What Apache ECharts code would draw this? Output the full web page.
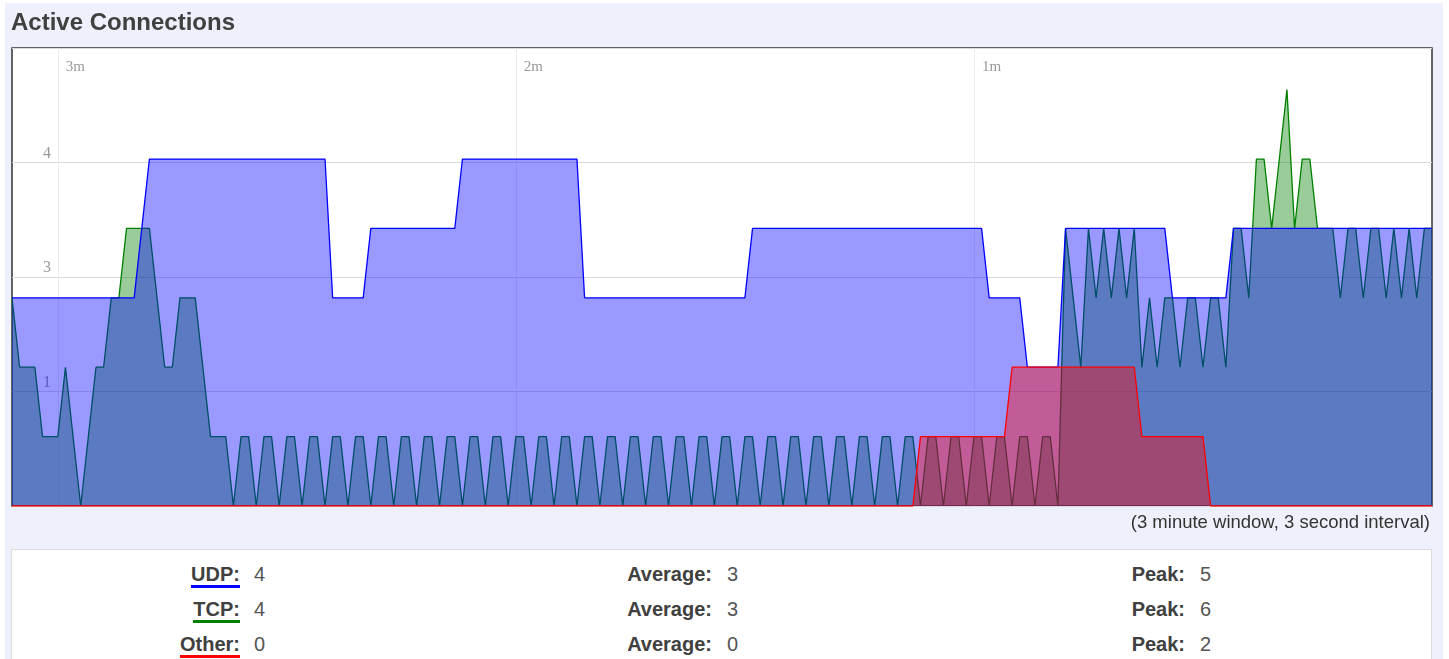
<!DOCTYPE html>
<html>
<head>
<meta charset="utf-8">
<script src="https://cdn.jsdelivr.net/npm/echarts@6/dist/echarts.min.js"></script>
<style>
html,body{margin:0;padding:0;background:#fff;width:1449px;height:659px;overflow:hidden;font-family:'Liberation Sans',Arial,sans-serif;}
#panel{position:absolute;left:5px;top:3px;width:1438px;height:656px;background:#eef1fb;}
#chart{position:absolute;left:0;top:0;width:1449px;height:545px;}
#stats{position:absolute;left:11px;top:549px;width:1419px;height:130px;background:#fff;border:1px solid #dcdcdc;}
.cell{position:absolute;font-size:20px;line-height:24px;white-space:nowrap;}
.lab{font-weight:bold;color:#404040;text-align:right;}
.val{color:#555;}
</style>
</head>
<body>
<div id="panel"></div>
<div id="chart"></div>
<div id="stats"></div>
<script>
// ---- data (3 minute window, one value per sample, oldest first) ----
const tcp = [
 3,2,2,2,1,1,1,2,1,0,
 1,2,2,3,3,4,4,4,4,3,
 2,2,3,3,3,2,1,1,1,0,
 1,1,0,1,1,0,1,1,0,1,
 1,0,1,1,0,1,1,0,1,1,
 0,1,1,0,1,1,0,1,1,0,
 1,1,0,1,1,0,1,1,0,1,
 1,0,1,1,0,1,1,0,1,1,
 0,1,1,0,1,1,0,1,1,0,
 1,1,0,1,1,0,1,1,0,1,
 1,0,1,1,0,1,1,0,1,1,
 0,1,1,0,1,1,0,1,1,0,
 1,1,0,1,1,0,1,1,0,1,
 1,0,1,1,0,1,1,0,4,3,
 2,4,3,4,3,4,3,4,2,3,
 2,3,3,2,3,3,2,3,3,2,
 4,4,3,5,5,4,5,6,4,5,
 5,4,4,4,3,4,4,3,4,4,
 3,4,3,4,3,4,4
];
const udp = [
 3,3,3,3,3,3,3,3,3,3,
 3,3,3,3,3,3,3,4,5,5,
 5,5,5,5,5,5,5,5,5,5,
 5,5,5,5,5,5,5,5,5,5,
 5,5,3,3,3,3,3,4,4,4,
 4,4,4,4,4,4,4,4,4,5,
 5,5,5,5,5,5,5,5,5,5,
 5,5,5,5,5,3,3,3,3,3,
 3,3,3,3,3,3,3,3,3,3,
 3,3,3,3,3,3,3,4,4,4,
 4,4,4,4,4,4,4,4,4,4,
 4,4,4,4,4,4,4,4,4,4,
 4,4,4,4,4,4,4,4,3,3,
 3,3,3,2,2,2,2,2,4,4,
 4,4,4,4,4,4,4,4,4,4,
 4,4,3,3,3,3,3,3,3,3,
 4,4,4,4,4,4,4,4,4,4,
 4,4,4,4,4,4,4,4,4,4,
 4,4,4,4,4,4,4
];
const other = [
 0,0,0,0,0,0,0,0,0,0,
 0,0,0,0,0,0,0,0,0,0,
 0,0,0,0,0,0,0,0,0,0,
 0,0,0,0,0,0,0,0,0,0,
 0,0,0,0,0,0,0,0,0,0,
 0,0,0,0,0,0,0,0,0,0,
 0,0,0,0,0,0,0,0,0,0,
 0,0,0,0,0,0,0,0,0,0,
 0,0,0,0,0,0,0,0,0,0,
 0,0,0,0,0,0,0,0,0,0,
 0,0,0,0,0,0,0,0,0,0,
 0,0,0,0,0,0,0,0,0,1,
 1,1,1,1,1,1,1,1,1,1,
 1,2,2,2,2,2,2,2,2,2,
 2,2,2,2,2,2,2,2,1,1,
 1,1,1,1,1,1,1,0,0,0,
 0,0,0,0,0,0,0,0,0,0,
 0,0,0,0,0,0,0,0,0,0,
 0,0,0,0,0,0,0
];
// time ticks (sample index -> label)
const timeTickIndex = [6, 66, 126];
const timeTickLabel = ['3m', '2m', '1m'];
// y grid lines at 25/50/75% of scale (peak 6 * 1.1), labels as shown
const yTickValue = [1.65, 3.3, 4.95];
const yTickLabel = ['1', '3', '4'];
// statistics table
const statName = ['UDP:', 'TCP:', 'Other:'];
const statColor = ['blue', 'green', 'red'];
const statCurrent = [4, 4, 0];
const statAverage = [3, 3, 0];
const statPeak = [5, 6, 2];

const categories = tcp.map((_, i) => i);

const chart = echarts.init(document.getElementById('chart'));
chart.setOption({
  animation: false,
  backgroundColor: 'transparent',
  title: {
    text: 'Active Connections', left: 11, top: 11, padding: 0,
    textStyle: {fontFamily: 'Liberation Sans', fontSize: 24, fontWeight: 'bold', color: '#404040'}
  },
  grid: {left: 12, top: 48, width: 1420, height: 458, show: true,
         backgroundColor: '#fff', borderColor: '#333', borderWidth: 1.5},
  xAxis: {
    type: 'category', data: categories, boundaryGap: false, position: 'top',
    axisLine: {show: false}, axisTick: {show: false},
    axisLabel: {
      inside: true, margin: 12, align: 'left', verticalAlign: 'top', padding: [0, 0, 0, 8],
      interval: (i) => timeTickIndex.includes(i),
      formatter: (v, i) => { const k = timeTickIndex.indexOf(Number(v)); return k >= 0 ? timeTickLabel[k] : ''; },
      color: '#999', fontFamily: 'Liberation Serif', fontSize: 15
    },
    splitLine: {show: true, interval: (i) => timeTickIndex.includes(i), lineStyle: {color: '#ececec', width: 1}}
  },
  yAxis: {
    type: 'value', min: 0, max: 6.6, interval: 1.65,
    axisLine: {show: false}, axisTick: {show: false},
    axisLabel: {
      inside: true, margin: 31, align: 'left', verticalAlign: 'bottom', padding: [0, 0, 1, 0],
      color: '#999', fontFamily: 'Liberation Serif', fontSize: 16,
      formatter: (v) => { for (let k = 0; k < yTickValue.length; k++) { if (Math.abs(v - yTickValue[k]) < 0.01) return yTickLabel[k]; } return ''; }
    },
    splitLine: {show: true, lineStyle: {color: '#dadada', width: 1}}
  },
  graphic: [{
    type: 'text', x: 1430, y: 523,
    style: {text: '(3 minute window, 3 second interval)', align: 'right', verticalAlign: 'middle',
            fontFamily: 'Liberation Sans', fontSize: 18.5, fill: '#333'}
  }],
  series: [
    {name: 'TCP', type: 'line', z: 2, data: tcp, symbol: 'none', showSymbol: false,
     lineStyle: {color: 'green', width: 1.3}, itemStyle: {color: 'green'}, areaStyle: {color: 'green', opacity: 0.4}},
    {name: 'UDP', type: 'line', z: 3, data: udp, symbol: 'none', showSymbol: false,
     lineStyle: {color: 'blue', width: 1.3}, itemStyle: {color: 'blue'}, areaStyle: {color: 'blue', opacity: 0.4}},
    {name: 'Other', type: 'line', z: 4, data: other, symbol: 'none', showSymbol: false,
     lineStyle: {color: 'red', width: 1.3}, itemStyle: {color: 'red'}, areaStyle: {color: 'red', opacity: 0.4}}
  ]
});

// statistics table (page coordinates)
const rowTop = [562, 597, 632];
let html = '';
for (let r = 0; r < statName.length; r++) {
  const t = rowTop[r];
  html += `<div class="cell lab" style="left:0;width:240px;top:${t}px"><span style="border-bottom:3px solid ${statColor[r]}">${statName[r]}</span></div>`;
  html += `<div class="cell val" style="left:254px;top:${t}px">${statCurrent[r]}</div>`;
  html += `<div class="cell lab" style="left:0;width:712px;top:${t}px">Average:</div>`;
  html += `<div class="cell val" style="left:727px;top:${t}px">${statAverage[r]}</div>`;
  html += `<div class="cell lab" style="left:0;width:1185px;top:${t}px">Peak:</div>`;
  html += `<div class="cell val" style="left:1200px;top:${t}px">${statPeak[r]}</div>`;
}
document.body.insertAdjacentHTML('beforeend', html);
</script>
</body>
</html>
